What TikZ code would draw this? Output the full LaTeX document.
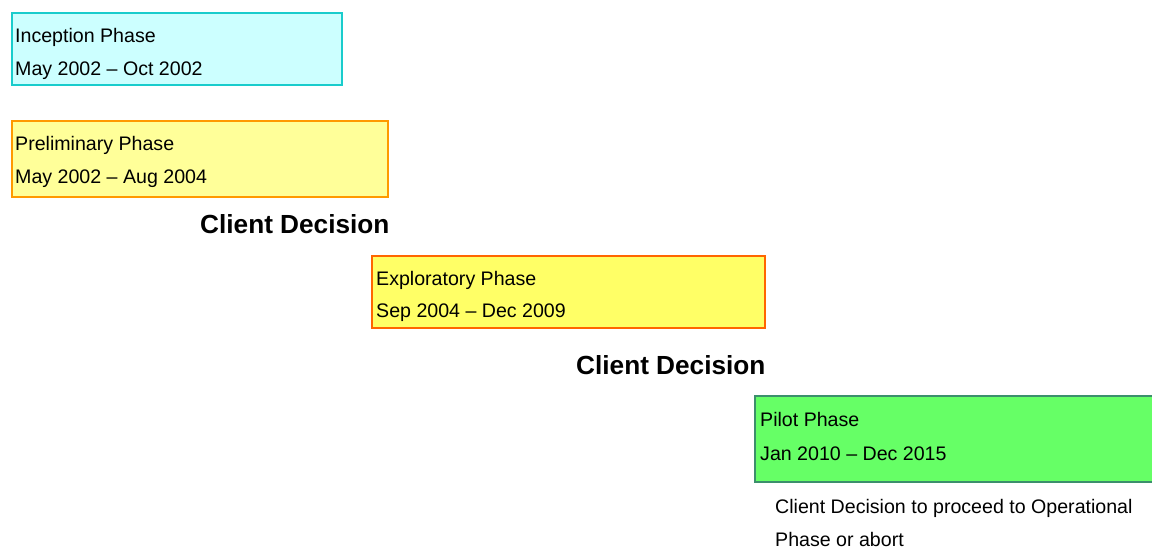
\documentclass[tikz,border=0pt]{standalone}
\usepackage{fontspec}
\setmainfont{Liberation Sans}
\definecolor{incfill}{HTML}{CCFFFF}
\definecolor{incdraw}{HTML}{19CCCC}
\definecolor{prefill}{HTML}{FFFF99}
\definecolor{predraw}{HTML}{FF9900}
\definecolor{expfill}{HTML}{FFFF66}
\definecolor{expdraw}{HTML}{FF6600}
\definecolor{pilfill}{HTML}{66FF66}
\definecolor{pildraw}{HTML}{3C8F6C}
\tikzset{
  phasebox/.style={draw, line width=2pt, rectangle, inner sep=0pt, anchor=north west},
  phasetext/.style={anchor=base west, inner sep=0pt, font=\fontsize{19.6}{23}\selectfont},
  decision/.style={anchor=base west, inner sep=0pt, font=\fontsize{26.2}{30}\selectfont\bfseries},
}
\begin{document}
\begin{tikzpicture}[x=1pt,y=-1pt]
\clip (0,0) rectangle (1152,553);
\fill[white] (0,0) rectangle (1152,553);
% Inception
\node[phasebox, fill=incfill, draw=incdraw, minimum width=330pt, minimum height=72pt] (inc) at (11,12) {};
\node[phasetext] (inc1) at (15,43) {Inception Phase};
\node[phasetext] (inc2) at (15,76) {May 2002 – Oct 2002};
% Preliminary
\node[phasebox, fill=prefill, draw=predraw, minimum width=376pt, minimum height=76pt] (pre) at (11,120) {};
\node[phasetext] (pre1) at (15,151) {Preliminary Phase};
\node[phasetext] (pre2) at (15,184) {May 2002 – Aug 2004};
% Decision 1
\node[decision] (dec1) at (200,234) {Client Decision};
% Exploratory
\node[phasebox, fill=expfill, draw=expdraw, minimum width=393pt, minimum height=72pt] (exp) at (371,255) {};
\node[phasetext] (exp1) at (376,286) {Exploratory Phase};
\node[phasetext] (exp2) at (376,318) {Sep 2004 – Dec 2009};
% Decision 2
\node[decision] (dec2) at (576,374) {Client Decision};
% Pilot
\node[phasebox, fill=pilfill, draw=pildraw, minimum width=420pt, minimum height=86pt] (pil) at (754,395) {};
\node[phasetext] (pil1) at (760,427) {Pilot Phase};
\node[phasetext] (pil2) at (760,460) {Jan 2010 – Dec 2015};
% Final note
\node[phasetext] (fin1) at (775,513) {Client Decision to proceed to Operational};
\node[phasetext] (fin2) at (775,546) {Phase or abort};
\end{tikzpicture}
\end{document}
